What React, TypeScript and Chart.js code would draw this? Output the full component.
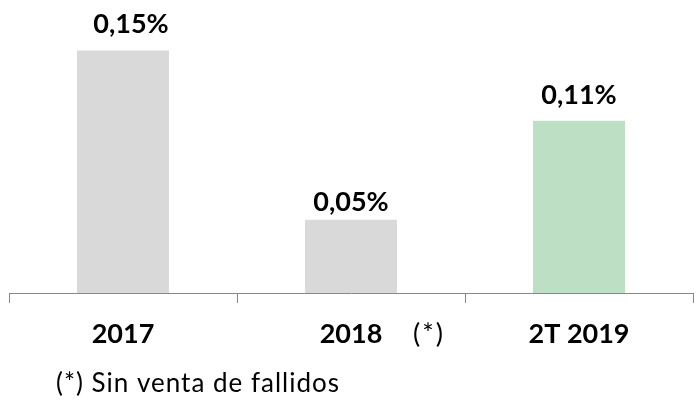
import React, { useEffect, useRef } from "react";
import { Chart, registerables } from "chart.js";

Chart.register(...registerables);

const categories = ["2017", "2018", "2T 2019"];
const values = [0.15, 0.0453, 0.1066];
const valueLabels = ["0,15%", "0,05%", "0,11%"];
const barColors = ["#D9D9D9", "#D9D9D9", "#BDDFC3"];
const footnote = "(*) Sin venta de fallidos";
const categoryNote = "(*)";

const labelPlugin = {
  id: "labelPlugin",
  afterDatasetsDraw(chart: any) {
    const ctx = chart.ctx;
    const meta = chart.getDatasetMeta(0);
    const dx = [8, 0, 0];
    const dy = [18, 9, 17];
    ctx.save();
    ctx.fillStyle = "#000";
    ctx.textAlign = "center";
    ctx.textBaseline = "alphabetic";
    ctx.font = "bold 27px Lato";
    meta.data.forEach((bar: any, i: number) => {
      ctx.fillText(valueLabels[i], bar.x + dx[i], bar.y - dy[i]);
    });
    ctx.font = "27px Lato";
    ctx.letterSpacing = "2px";
    const b = meta.data[1];
    ctx.fillText(categoryNote, b.x + 78, 343);
    ctx.textAlign = "left";
    ctx.letterSpacing = "1px";
    ctx.font = "26px Lato";
    ctx.fillText(footnote, 56, 392);
    ctx.restore();
  },
};

export default function App() {
  const ref = useRef<HTMLCanvasElement>(null);
  useEffect(() => {
    const chart = new Chart(ref.current!, {
      type: "bar",
      data: {
        labels: categories,
        datasets: [
          {
            data: values,
            backgroundColor: barColors,
            borderWidth: 0,
            categoryPercentage: 1,
            barPercentage: 92 / 228,
          },
        ],
      },
      options: {
        responsive: false,
        animation: false,
        layout: { padding: { left: 9, right: 3, top: 2, bottom: 35.6 } },
        plugins: { legend: { display: false }, tooltip: { enabled: false } },
        scales: {
          y: { display: false, min: 0, max: 0.18 },
          x: {
            grid: {
              drawOnChartArea: false,
              drawTicks: true,
              tickLength: 10,
              color: "#888888",
              lineWidth: 1,
            },
            border: { color: "#888888", width: 1 },
            ticks: {
              color: "#000",
              padding: 15,
              font: { family: "Lato", size: 27, weight: "bold" },
            },
          },
        },
      },
      plugins: [labelPlugin],
    });
    return () => chart.destroy();
  }, []);
  return (
    <div style={{ position: "absolute", left: 0, top: 0, width: 696, height: 401, background: "#fff" }}>
      <canvas ref={ref} width={696} height={401} style={{ display: "block" }} />
    </div>
  );
}
